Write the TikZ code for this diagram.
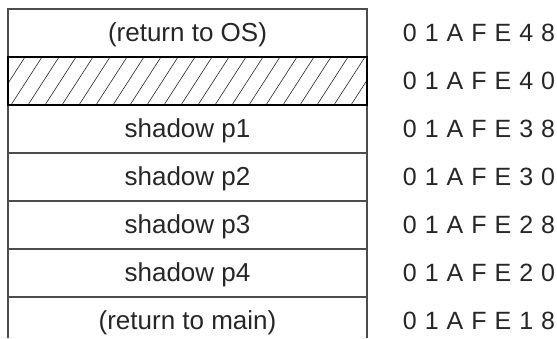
\documentclass[tikz,border=0pt]{standalone}
\usepackage{fontspec}
\setmainfont{Liberation Sans}
\newcommand{\addrsp}{\hspace{8pt}}
\begin{document}
\begin{tikzpicture}[x=1pt,y=-1pt,
  celltext/.style={inner sep=0pt,anchor=base,font=\fontsize{26}{30}\selectfont,text=black!85},
  addr/.style={inner sep=0pt,anchor=base,font=\fontsize{25}{30}\selectfont,text=black!85},
  gridline/.style={draw=black!70,line width=1.2pt},
  hatchbox/.style={draw=black,line width=1.8pt,minimum width=359pt,minimum height=48pt,inner sep=0pt},
  hatchline/.style={draw=black!85,line width=0.6pt}]
\useasboundingbox (0,0) rectangle (557,338);
% hatching
\begin{scope}
  \clip (8,57) rectangle (367,105);
  \foreach \x in {-40,-23,...,390} \draw[hatchline] (\x,105) -- (\x+31,57);
\end{scope}
% grid
\coordinate (bl) at (8,338);
\coordinate (tl) at (8,9);
\coordinate (tr) at (367,9);
\coordinate (br) at (367,338);
\draw[gridline] (bl) -- (tl) -- (tr) -- (br);
\foreach \y in {153,201,249,297} \draw[gridline] (8,\y) -- (367,\y);
\node[hatchbox] (h) at (187.5,81) {};
% cell texts
\node[celltext] (c0) at (187.5,41.5) {(return to OS)};
\node[celltext] (c2) at (187.5,137.5) {shadow p1};
\node[celltext] (c3) at (187.5,185.5) {shadow p2};
\node[celltext] (c4) at (187.5,233.5) {shadow p3};
\node[celltext] (c5) at (187.5,281.5) {shadow p4};
\node[celltext] (c6) at (187.5,329.5) {(return to main)};
% addresses
\node[addr] (a0) at (479,41.5) {0\addrsp1\addrsp A\addrsp F\addrsp E\addrsp 4\addrsp 8};
\node[addr] (a1) at (479,89.5) {0\addrsp1\addrsp A\addrsp F\addrsp E\addrsp 4\addrsp 0};
\node[addr] (a2) at (479,137.5) {0\addrsp1\addrsp A\addrsp F\addrsp E\addrsp 3\addrsp 8};
\node[addr] (a3) at (479,185.5) {0\addrsp1\addrsp A\addrsp F\addrsp E\addrsp 3\addrsp 0};
\node[addr] (a4) at (479,233.5) {0\addrsp1\addrsp A\addrsp F\addrsp E\addrsp 2\addrsp 8};
\node[addr] (a5) at (479,281.5) {0\addrsp1\addrsp A\addrsp F\addrsp E\addrsp 2\addrsp 0};
\node[addr] (a6) at (479,329.5) {0\addrsp1\addrsp A\addrsp F\addrsp E\addrsp 1\addrsp 8};
\end{tikzpicture}
\end{document}
